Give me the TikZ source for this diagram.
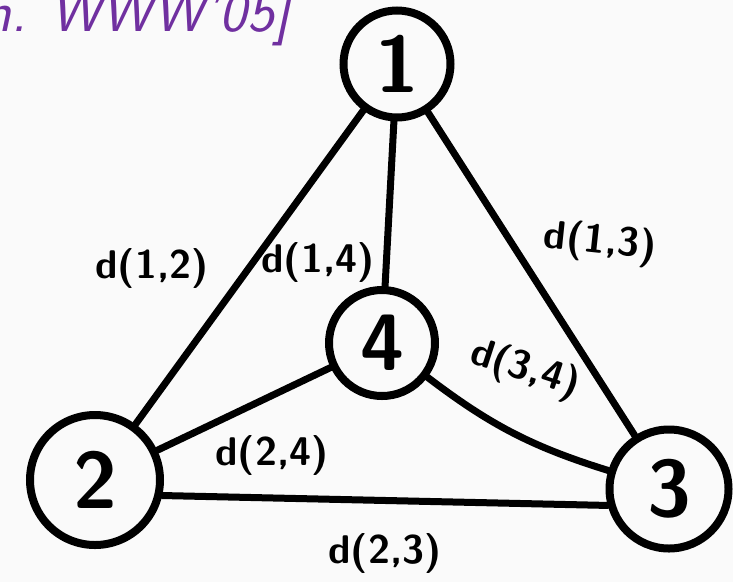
\documentclass[tikz,border=0pt]{standalone}
\usetikzlibrary{positioning}
\usepackage{xcolor}
\definecolor{refpurple}{RGB}{112,48,160}
\definecolor{paper}{RGB}{250,250,250}

\begin{document}
\begin{tikzpicture}[
    x=1pt, y=-1pt,
    vertex/.style={draw, circle, line width=8pt, inner sep=0pt,
      font=\fontsize{80}{80}\selectfont\sffamily\bfseries},
    dist/.style={inner sep=2pt, font=\fontsize{40}{48}\selectfont\sffamily\bfseries},
    link/.style={line width=7pt, line cap=round}
  ]
  \fill[paper] (0,0) rectangle (733,582);
  \useasboundingbox (0,0) rectangle (733,582);

  % Citation (cut off at the top left)
  \node[anchor=base west, inner sep=0pt, text=refpurple,
    font=\fontsize{58}{58}\selectfont\sffamily\itshape] (cite) at (-17,31) {n. WWW'05]};

  % Nodes
  \node[vertex, minimum size=107pt] (n1) at (397,64) {1};
  \node[vertex, minimum size=130pt] (n2) at (95,480) {2};
  \node[vertex, minimum size=119pt] (n3) at (669,489) {3};
  \node[vertex, minimum size=106pt] (n4) at (382,343) {4};

  % Edges
  \draw[link] (n1) -- (n2);
  \draw[link] (n1) -- (n4);
  \draw[link] (n1) -- (n3);
  \draw[link] (n2) -- (n4);
  \draw[link] (n4) to[bend right=10] (n3);
  \draw[link] (n2.-13) -- (n3.195);

  % Edge labels
  \node[dist] (d12) at (152,268) {d(1,2)};
  \node[dist] (d14) at (318,262) {d(1,4)};
  \node[dist, rotate=-6] (d13) at (600,243) {d(1,3)};
  \node[dist, rotate=-18] (d34) at (525,370) {d(3,4)};
  \node[dist] (d24) at (272,455) {d(2,4)};
  \node[dist] (d23) at (385,553) {d(2,3)};
\end{tikzpicture}
\end{document}
